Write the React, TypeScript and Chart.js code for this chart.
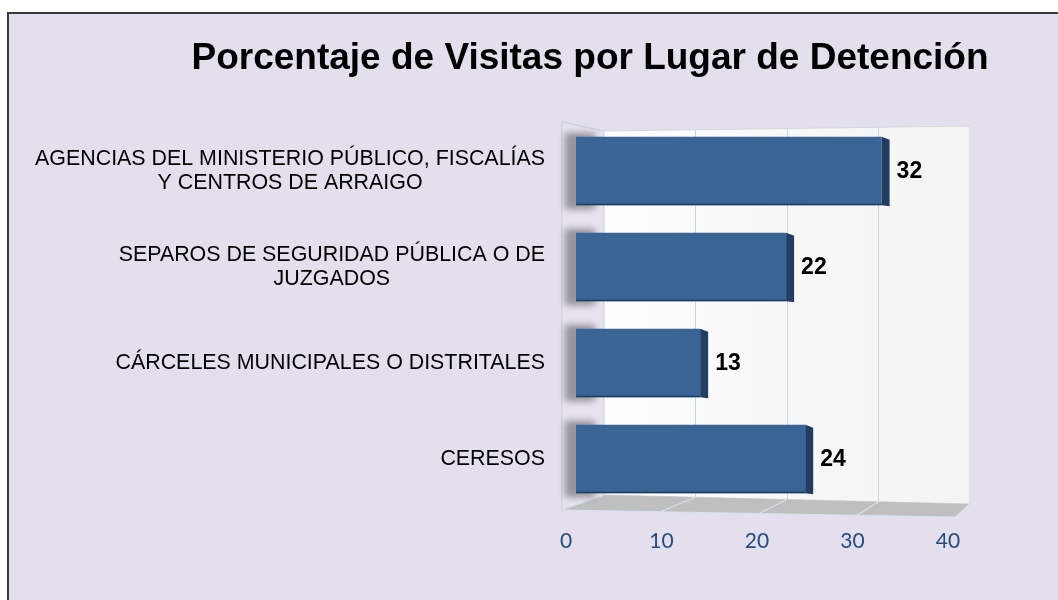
import React, { useEffect, useRef } from 'react';
import { Chart, registerables } from 'chart.js';

Chart.register(...registerables);

const chartTitle = 'Porcentaje de Visitas por Lugar de Detención';
const categories: (string | string[])[] = [
  ['AGENCIAS DEL MINISTERIO PÚBLICO, FISCALÍAS', 'Y CENTROS DE ARRAIGO'],
  ['SEPAROS DE SEGURIDAD PÚBLICA O DE', 'JUZGADOS'],
  'CÁRCELES MUNICIPALES O DISTRITALES',
  'CERESOS',
];
const values = [32, 22, 13, 24];
const xMin = 0;
const xMax = 40;
const xStep = 10;

export default function App() {
  const ref = useRef<HTMLCanvasElement>(null);

  useEffect(() => {
    const canvas = ref.current!;

    const framePlugin = {
      id: 'frame3d',
      beforeDraw(chart: any) {
        const ctx = chart.ctx;
        const W = chart.width, H = chart.height;
        ctx.save();
        ctx.fillStyle = '#ffffff';
        ctx.fillRect(0, 0, W, H);
        ctx.fillStyle = '#E4DFEC';
        ctx.fillRect(7, 12, W - 7, H - 12);
        ctx.strokeStyle = '#3a3a3a';
        ctx.lineWidth = 2;
        ctx.beginPath();
        ctx.moveTo(8, H);
        ctx.lineTo(8, 13);
        ctx.lineTo(W, 13);
        ctx.stroke();
        ctx.fillStyle = '#000';
        ctx.font = 'bold 37px "Liberation Sans", Arial, sans-serif';
        ctx.textAlign = 'center';
        ctx.textBaseline = 'alphabetic';
        ctx.fillText(chartTitle, 590, 69);

        // category labels (centered multi-line block, right aligned)
        const ys = chart.scales.y;
        const xs = chart.scales.x;
        ctx.font = '21.4px "Liberation Sans", Arial, sans-serif';
        ctx.textBaseline = 'middle';
        categories.forEach((c, i) => {
          const lines = Array.isArray(c) ? c : [c];
          const yc = ys.getPixelForValue(i);
          const maxW = Math.max(...lines.map((l) => ctx.measureText(l).width));
          const cx = xs.left - 31 - maxW / 2;
          lines.forEach((l, j) => {
            ctx.textAlign = 'center';
            ctx.fillText(l, cx, yc + (j - (lines.length - 1) / 2) * 24.5);
          });
        });
        ctx.restore();
      },
      beforeDatasetsDraw(chart: any) {
        const ctx = chart.ctx;
        const xs = chart.scales.x, ys = chart.scales.y;
        const L = xs.left, T = ys.top, B = ys.bottom;
        const px = (v: number) => xs.getPixelForValue(v);
        const frac = (v: number) => (v - xMin) / (xMax - xMin);
        const backX = (v: number) => L + 28 + (px(v) - L) * 0.958;
        const wallTop = (v: number) => T + 8 - 5 * frac(v);
        const wallBot = (v: number) => B - 12 + 9 * frac(v);
        const frontX = (v: number) => L - 14 + (px(v) - L) * 1.03;
        const frontY = (v: number) => B + 3 + 7 * frac(v);
        ctx.save();
        // left side wall
        ctx.beginPath();
        ctx.moveTo(frontX(xMin), T - 1);
        ctx.lineTo(backX(xMin), wallTop(xMin));
        ctx.lineTo(backX(xMin), wallBot(xMin));
        ctx.lineTo(frontX(xMin), frontY(xMin));
        ctx.closePath();
        ctx.fillStyle = 'rgba(255,255,255,0.12)';
        ctx.fill();
        ctx.strokeStyle = '#C3CDDC';
        ctx.lineWidth = 1;
        ctx.stroke();
        // back wall
        const g = ctx.createLinearGradient(backX(xMin), 0, backX(xMax), 0);
        g.addColorStop(0, '#FDFDFD');
        g.addColorStop(1, '#F3F3F3');
        ctx.beginPath();
        ctx.moveTo(backX(xMin), wallTop(xMin));
        ctx.lineTo(backX(xMax), wallTop(xMax));
        ctx.lineTo(backX(xMax), wallBot(xMax));
        ctx.lineTo(backX(xMin), wallBot(xMin));
        ctx.closePath();
        ctx.fillStyle = g;
        ctx.fill();
        ctx.strokeStyle = '#D4D8DE';
        ctx.stroke();
        ctx.strokeStyle = '#C3D5EC';
        for (let v = xMin + xStep; v < xMax; v += xStep) {
          ctx.beginPath();
          ctx.moveTo(Math.round(backX(v)) + 0.5, wallTop(v));
          ctx.lineTo(Math.round(backX(v)) + 0.5, wallBot(v));
          ctx.stroke();
        }
        // floor
        ctx.beginPath();
        ctx.moveTo(frontX(xMin), frontY(xMin));
        ctx.lineTo(frontX(xMax), frontY(xMax));
        ctx.lineTo(backX(xMax), wallBot(xMax));
        ctx.lineTo(backX(xMin), wallBot(xMin));
        ctx.closePath();
        ctx.fillStyle = '#BFBFBF';
        ctx.fill();
        ctx.strokeStyle = '#D6E2F0';
        ctx.lineWidth = 1.2;
        for (let v = xMin; v <= xMax; v += xStep) {
          ctx.beginPath();
          ctx.moveTo(backX(v), wallBot(v));
          ctx.lineTo(frontX(v), frontY(v));
          ctx.stroke();
        }
        ctx.beginPath();
        ctx.moveTo(frontX(xMin), frontY(xMin));
        ctx.lineTo(frontX(xMax), frontY(xMax));
        ctx.stroke();
        // bar shadows on side wall
        const meta = chart.getDatasetMeta(0);
        ctx.filter = 'blur(3px)';
        ctx.fillStyle = 'rgba(70,70,70,0.5)';
        meta.data.forEach((el: any) => {
          const top = el.y - el.height / 2;
          ctx.fillRect(L - 11, top - 4, 30, el.height + 8);
        });
        ctx.filter = 'none';
        ctx.restore();
      },
      afterDatasetsDraw(chart: any) {
        const ctx = chart.ctx;
        const meta = chart.getDatasetMeta(0);
        ctx.save();
        meta.data.forEach((el: any, i: number) => {
          const x = el.x;
          const top = el.y - el.height / 2;
          const bot = el.y + el.height / 2;
          ctx.beginPath();
          ctx.moveTo(x, top);
          ctx.lineTo(x + 8, top + 3);
          ctx.lineTo(x + 8, bot + 1);
          ctx.lineTo(x, bot);
          ctx.closePath();
          ctx.fillStyle = '#213D62';
          ctx.fill();
          ctx.fillStyle = 'rgba(30,55,90,0.9)';
          ctx.fillRect(el.base, bot - 1.5, x - el.base, 1.5);
          ctx.fillStyle = '#000';
          ctx.font = 'bold 23px "Liberation Sans", Arial, sans-serif';
          ctx.textAlign = 'left';
          ctx.textBaseline = 'middle';
          ctx.fillText(String(values[i]), x + 15, el.y + 1);
        });
        ctx.restore();
      },
    };

    const chart = new Chart(canvas, {
      type: 'bar',
      data: {
        labels: categories as any,
        datasets: [
          {
            data: values,
            backgroundColor: '#3A6496',
            borderWidth: 0,
            categoryPercentage: 1,
            barPercentage: 0.713,
          },
        ],
      },
      options: {
        indexAxis: 'y',
        responsive: false,
        animation: false,
        devicePixelRatio: 1,
        layout: { padding: { top: 123, right: 100, bottom: 0, left: 0 } },
        plugins: { legend: { display: false }, tooltip: { enabled: false }, title: { display: false } },
        scales: {
          x: {
            min: xMin,
            max: xMax,
            ticks: {
              stepSize: xStep,
              color: '#254C7E',
              font: { family: 'Lato', size: 21 },
              padding: 22,
              labelOffset: -10,
              maxRotation: 0,
            },
            grid: { display: false, drawTicks: false },
            border: { display: false },
            afterFit: (s: any) => {
              s.height = 93;
            },
          },
          y: {
            ticks: { display: false },
            grid: { display: false, drawTicks: false },
            border: { display: false },
            afterFit: (s: any) => {
              s.width = 576;
            },
          },
        },
      },
      plugins: [framePlugin],
    });
    return () => chart.destroy();
  }, []);

  return (
    <div style={{ position: 'fixed', left: 0, top: 0, width: 1058, height: 600 }}>
      <canvas ref={ref} width={1058} height={600} style={{ display: 'block' }} />
    </div>
  );
}
